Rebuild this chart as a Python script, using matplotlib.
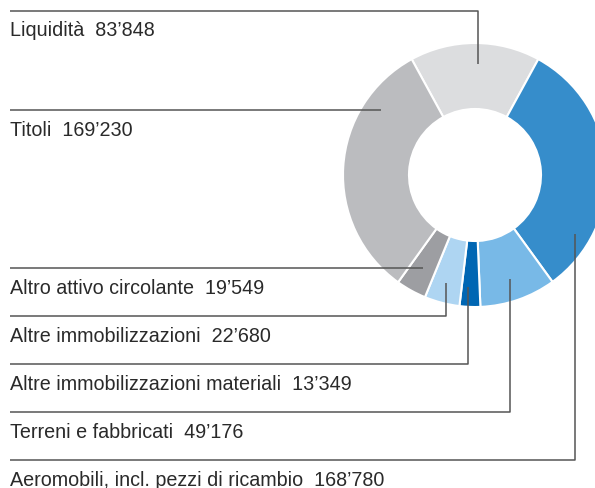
import numpy as np
import matplotlib
matplotlib.use("Agg")
import matplotlib.pyplot as plt

# data (CHF thousands), clockwise from the top
labels = ["Liquidità", "Aeromobili, incl. pezzi di ricambio", "Terreni e fabbricati",
          "Altre immobilizzazioni materiali", "Altre immobilizzazioni",
          "Altro attivo circolante", "Titoli"]
values = [83848, 168780, 49176, 13349, 22680, 19549, 169230]
colors = ["#dcdddf", "#368dcb", "#78b9e7", "#0066b3", "#aed5f2", "#9d9ea2", "#bbbcbf"]

# label order top to bottom on the left
label_order = [0, 6, 5, 4, 3, 2, 1]
line_y = [11, 110, 268, 316, 364, 412, 460]
# leader anchor inside each wedge: (degrees clockwise from top, radius px)
anchors = {0: (1.5, 111), 6: (304.2, 114), 5: (209.2, 107), 4: (195, 112),
           3: (183.6, 112), 2: (161.4, 110), 1: (120.5, 116)}

W, H = 595, 488
cx, cy = 475, 175   # image coords
R, ring = 132, 66

fig = plt.figure(figsize=(W / 100, H / 100), dpi=100)
ax = fig.add_axes([0, 0, 1, 1])

start = 90 + 360 * values[0] / sum(values) / 2
ax.pie(values, colors=colors, center=(cx, H - cy), radius=R, startangle=start,
       counterclock=False, wedgeprops=dict(width=ring, edgecolor="white", linewidth=1.5))
ax.set_xlim(0, W)
ax.set_ylim(0, H)
ax.set_aspect("equal")
ax.axis("off")

def fmt(v):
    return f"{v:,}".replace(",", "\u2019")

for ly, i in zip(line_y, label_order):
    ang, r = anchors[i]
    ax_x = cx + r * np.sin(np.radians(ang))
    ax_y = cy - r * np.cos(np.radians(ang))
    if abs(ax_y - ly) < 4:
        ax_y = ly
    ax.plot([10, ax_x, ax_x], [H - ly, H - ly, H - ax_y], color="#555555", lw=1.1,
            solid_capstyle="butt", zorder=5)
    ax.text(10, H - (ly + 25.5), f"{labels[i]}  {fmt(values[i])}", fontsize=14.2,
            family="Liberation Sans", color="#2a2a2a", va="baseline", ha="left")

fig.savefig("out.png", dpi=100)
